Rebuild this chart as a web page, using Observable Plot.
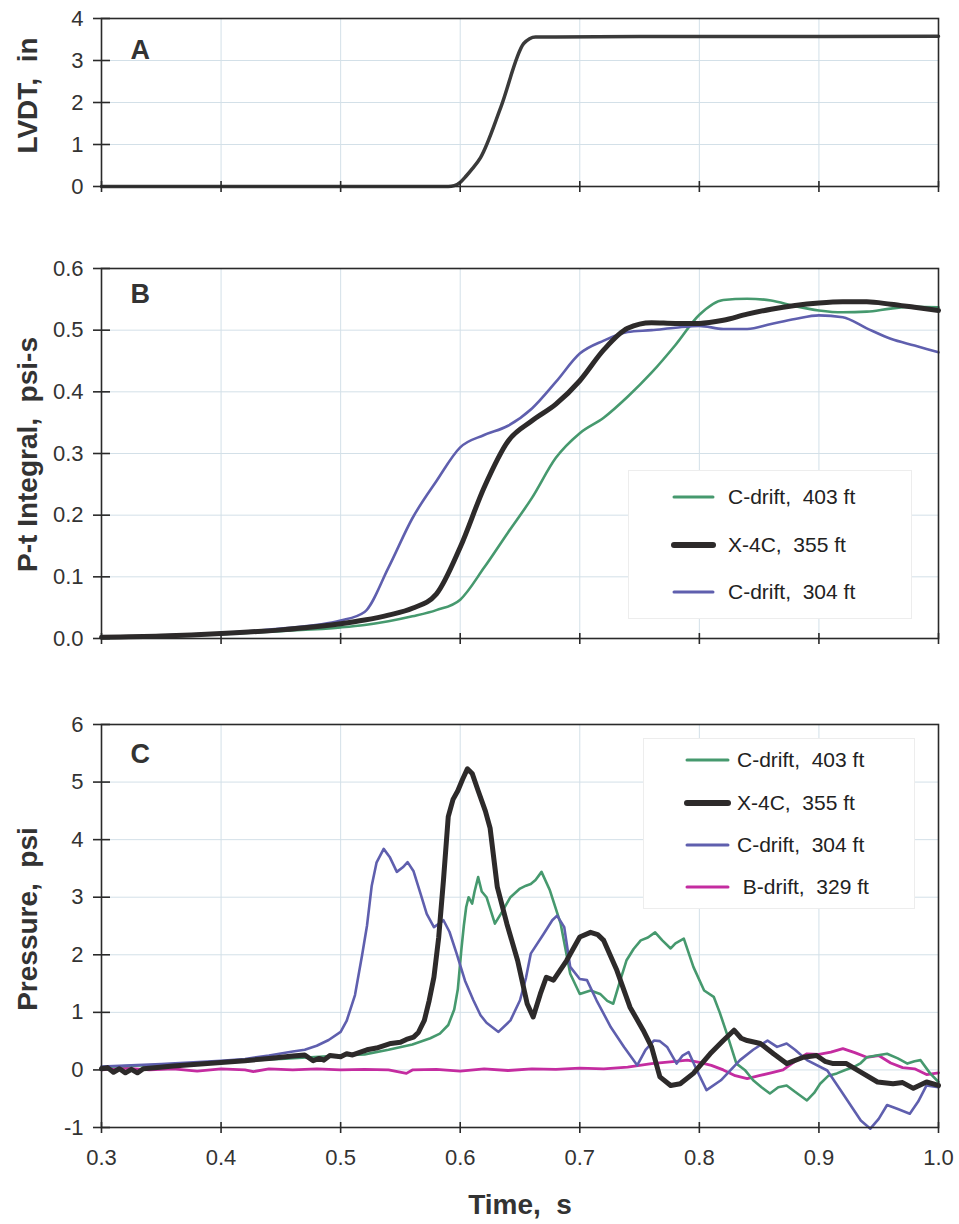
<!DOCTYPE html>
<html><head><meta charset="utf-8">
<script src="https://cdn.jsdelivr.net/npm/d3@7"></script>
<script src="https://cdn.jsdelivr.net/npm/@observablehq/plot@0.6"></script>
<style>
body{margin:0;background:#fff;}
#wrap{position:relative;width:959px;height:1224px;font-family:"Liberation Sans",Arial,sans-serif;}
#wrap svg{position:absolute;left:0;}
.legend{position:absolute;background:#fff;border:1px solid #ededed;}
.row{position:absolute;white-space:pre;font-size:21px;color:#222;height:24px;line-height:24px;}
</style></head><body><div id="wrap"></div>
<script>
// ---------- data ----------
const xTicks = [0.3, 0.4, 0.5, 0.6, 0.7, 0.8, 0.9, 1.0];
const yTicksA = [0, 1, 2, 3, 4];
const yTicksB = [0, 0.1, 0.2, 0.3, 0.4, 0.5, 0.6];
const yTicksC = [-1, 0, 1, 2, 3, 4, 5, 6];

const seriesNames = ["C-drift,  403 ft", "X-4C,  355 ft", "C-drift,  304 ft", " B-drift,  329 ft"];
const seriesColors = ["#46996e", "#2d2a2a", "#5f5fae", "#c42ca0"];

// Panel A: LVDT displacement (in)
const lvdt = [[0.30,0],[0.40,0],[0.50,0],[0.58,0],[0.59,0],[0.595,0.02],[0.600,0.1],[0.605,0.25],[0.610,0.42],
  [0.617,0.69],[0.634,1.89],[0.653,3.40],[0.658,3.52],[0.663,3.56],[0.68,3.56],[0.75,3.57],[0.85,3.57],[1.00,3.58]];

// Panel B: P-t integral (psi-s)
const ptTime  = [0.30,0.35,0.40,0.45,0.50,0.52,0.54,0.56,0.58,0.60,0.62,0.64,0.66,0.68,0.70,0.72,0.74,0.76,0.78,0.80,0.82,0.84,0.86,0.88,0.90,0.92,0.94,0.96,0.98,1.00];
const ptC403  = [0.001,0.003,0.007,0.012,0.018,0.022,0.028,0.036,0.046,0.063,0.115,0.172,0.228,0.293,0.333,0.358,0.392,0.431,0.476,0.525,0.549,0.551,0.548,0.539,0.532,0.529,0.530,0.535,0.538,0.537];
const ptX4C   = [0.002,0.004,0.008,0.014,0.024,0.030,0.038,0.049,0.072,0.148,0.245,0.320,0.353,0.380,0.418,0.468,0.503,0.512,0.511,0.511,0.516,0.526,0.534,0.540,0.544,0.546,0.546,0.542,0.537,0.532];
const ptC304  = [0.002,0.005,0.009,0.016,0.029,0.043,0.115,0.195,0.255,0.310,0.330,0.345,0.373,0.416,0.462,0.483,0.497,0.500,0.504,0.507,0.502,0.502,0.510,0.518,0.524,0.521,0.503,0.486,0.475,0.464];

// Panel C: pressure (psi), [time, value]
const pC403 = [[0.30,0.05],[0.35,0.09],[0.40,0.14],[0.45,0.19],[0.50,0.25],[0.52,0.27],[0.54,0.35],[0.56,0.44],[0.575,0.55],
  [0.583,0.63],[0.590,0.78],[0.595,1.05],[0.598,1.4],[0.601,2.1],[0.603,2.5],[0.605,2.83],[0.607,3.0],[0.610,2.89],[0.612,3.1],
  [0.615,3.35],[0.618,3.1],[0.622,3.0],[0.629,2.54],[0.634,2.71],[0.642,3.0],[0.650,3.15],[0.655,3.2],[0.659,3.23],[0.663,3.3],
  [0.668,3.44],[0.675,3.12],[0.684,2.54],[0.692,1.67],[0.700,1.32],[0.709,1.38],[0.717,1.32],[0.723,1.20],[0.728,1.15],[0.733,1.5],
  [0.739,1.90],[0.745,2.10],[0.751,2.25],[0.757,2.30],[0.763,2.39],[0.769,2.25],[0.776,2.11],[0.780,2.20],[0.787,2.28],[0.795,1.79],
  [0.804,1.38],[0.812,1.27],[0.817,1.0],[0.823,0.63],[0.831,0.11],[0.838,0.0],[0.845,-0.18],[0.852,-0.30],[0.859,-0.41],[0.866,-0.30],
  [0.873,-0.27],[0.880,-0.38],[0.890,-0.53],[0.896,-0.40],[0.901,-0.24],[0.908,-0.10],[0.915,-0.06],[0.922,0.0],[0.929,0.05],[0.935,0.12],
  [0.940,0.22],[0.948,0.25],[0.957,0.28],[0.966,0.20],[0.974,0.11],[0.980,0.15],[0.985,0.17],[0.993,-0.06],[1.0,-0.21]];
const pX4C = [[0.300,0.02],[0.305,0.04],[0.310,-0.04],[0.315,0.02],[0.320,-0.05],[0.325,0.01],[0.330,-0.05],[0.335,0.02],[0.340,0.03],
  [0.360,0.07],[0.380,0.10],[0.400,0.13],[0.420,0.16],[0.440,0.20],[0.460,0.24],[0.470,0.26],[0.477,0.16],[0.482,0.20],[0.486,0.17],
  [0.491,0.25],[0.500,0.23],[0.505,0.28],[0.510,0.26],[0.522,0.35],[0.530,0.38],[0.542,0.46],[0.550,0.48],[0.555,0.53],[0.561,0.57],
  [0.565,0.65],[0.570,0.86],[0.574,1.20],[0.578,1.61],[0.582,2.30],[0.586,3.30],[0.590,4.40],[0.594,4.70],[0.598,4.85],[0.602,5.05],
  [0.606,5.23],[0.610,5.15],[0.615,4.85],[0.621,4.50],[0.625,4.20],[0.631,3.18],[0.639,2.54],[0.648,1.90],[0.656,1.15],[0.661,0.92],
  [0.667,1.32],[0.672,1.61],[0.678,1.56],[0.689,1.90],[0.700,2.31],[0.709,2.39],[0.715,2.35],[0.720,2.25],[0.731,1.73],[0.742,1.09],
  [0.753,0.69],[0.760,0.40],[0.767,-0.12],[0.776,-0.27],[0.784,-0.24],[0.795,-0.06],[0.809,0.28],[0.820,0.51],[0.829,0.69],[0.835,0.55],
  [0.840,0.51],[0.851,0.46],[0.862,0.28],[0.873,0.11],[0.887,0.22],[0.898,0.25],[0.905,0.15],[0.912,0.11],[0.923,0.11],[0.935,-0.04],
  [0.949,-0.21],[0.962,-0.24],[0.970,-0.22],[0.979,-0.32],[0.990,-0.21],[1.000,-0.27]];
const pC304 = [[0.30,0.06],[0.35,0.10],[0.40,0.16],[0.42,0.19],[0.44,0.25],[0.46,0.32],[0.47,0.35],[0.48,0.42],[0.49,0.52],[0.50,0.66],
  [0.505,0.85],[0.512,1.30],[0.518,2.00],[0.522,2.50],[0.526,3.20],[0.530,3.60],[0.536,3.84],[0.541,3.70],[0.547,3.44],[0.552,3.52],
  [0.556,3.61],[0.561,3.45],[0.567,3.05],[0.572,2.71],[0.578,2.48],[0.583,2.55],[0.586,2.60],[0.591,2.40],[0.597,2.02],[0.604,1.55],
  [0.611,1.21],[0.617,0.95],[0.622,0.82],[0.632,0.66],[0.642,0.86],[0.650,1.21],[0.655,1.6],[0.659,2.02],[0.670,2.37],[0.677,2.6],
  [0.681,2.68],[0.687,2.48],[0.692,1.79],[0.700,1.58],[0.706,1.56],[0.714,1.21],[0.726,0.74],[0.737,0.40],[0.748,0.08],[0.755,0.35],
  [0.762,0.51],[0.767,0.50],[0.773,0.40],[0.781,0.11],[0.786,0.25],[0.791,0.31],[0.798,-0.01],[0.806,-0.35],[0.818,-0.18],[0.834,0.17],
  [0.845,0.35],[0.857,0.51],[0.865,0.40],[0.873,0.46],[0.880,0.35],[0.890,0.17],[0.907,-0.01],[0.918,-0.35],[0.935,-0.88],[0.943,-1.02],
  [0.950,-0.85],[0.957,-0.61],[0.966,-0.68],[0.976,-0.76],[0.983,-0.55],[0.990,-0.27],[1.0,-0.30]];
const pB329 = [[0.30,0.0],[0.32,0.03],[0.34,0.0],[0.36,0.02],[0.38,-0.02],[0.40,0.02],[0.42,0.0],[0.427,-0.03],[0.44,0.02],[0.46,0.0],
  [0.48,0.02],[0.50,0.0],[0.52,0.01],[0.54,0.0],[0.555,-0.06],[0.56,0.0],[0.58,0.01],[0.60,-0.02],[0.62,0.02],[0.64,-0.01],[0.66,0.02],
  [0.68,0.01],[0.70,0.03],[0.72,0.02],[0.74,0.05],[0.76,0.11],[0.78,0.15],[0.79,0.17],[0.80,0.13],[0.81,0.08],[0.82,0.0],[0.83,-0.10],
  [0.84,-0.15],[0.85,-0.10],[0.86,-0.05],[0.87,0.0],[0.88,0.15],[0.89,0.28],[0.90,0.27],[0.91,0.31],[0.92,0.37],[0.93,0.30],[0.94,0.22],
  [0.95,0.25],[0.96,0.12],[0.97,0.04],[0.98,0.02],[0.99,-0.08],[1.0,-0.05]];

// ---------- drawing ----------
const wrap = document.getElementById("wrap");
const FONT = "'Liberation Sans', Arial, sans-serif";
const zip = (t, v) => t.map((d, i) => [d, v[i]]);

function panel(o) {
  const marks = [
    Plot.gridX({ticks: xTicks, stroke: "#d3e0e8", strokeOpacity: 1}),
    Plot.gridY({ticks: o.yTicks, stroke: "#d3e0e8", strokeOpacity: 1}),
    ...o.series.map(s => Plot.line(s.data, {x: d => d[0], y: d => d[1], stroke: s.color, strokeWidth: s.width,
        curve: o.curve, strokeLinejoin: "round", strokeLinecap: "round"})),
    Plot.frame({stroke: "#2a2a2a", strokeWidth: 1.6}),
    Plot.axisX({anchor: "bottom", ticks: xTicks, tickSize: 11, dy: -5, tickFormat: () => "", label: null, stroke: "#2a2a2a", strokeWidth: 1.6}),
    Plot.axisY({anchor: "left", ticks: o.yTicks, tickSize: 17, dx: 9, tickFormat: () => "", label: null, stroke: "#2a2a2a", strokeWidth: 1.6}),
    Plot.axisY({anchor: "left", ticks: o.yTicks, tickSize: 0, tickPadding: 18, fontSize: 22, tickFormat: o.yFmt, label: null, fill: "#333"}),
    Plot.text([o.title], {frameAnchor: "left", textAnchor: "middle", lineAnchor: "middle", dx: -73, dy: o.titleDy, rotate: -90, fontSize: 28, fontWeight: "bold", fill: "#333"}),
    Plot.text([o.letter], {frameAnchor: "top-left", dx: 29, dy: o.letterDy, fontSize: 27, fontWeight: "bold", fill: "#333"})
  ];
  if (o.xLabels) {
    marks.push(Plot.axisX({anchor: "bottom", ticks: xTicks, tickSize: 0, tickPadding: 22, fontSize: 22, tickFormat: d3.format(".1f"), label: null, fill: "#333"}));
    marks.push(Plot.text(["Time,\u00a0 s"], {frameAnchor: "bottom", lineAnchor: "middle", dy: 78, fontSize: 28, fontWeight: "bold", fill: "#333"}));
  }
  const svg = Plot.plot({
    width: 959, height: o.height,
    marginLeft: 101, marginRight: 21, marginTop: o.mt, marginBottom: o.mb,
    x: {domain: [0.3, 1.0], axis: null},
    y: {domain: o.yDomain, axis: null},
    style: {fontFamily: FONT, color: "#333", background: "transparent", overflow: "visible"},
    marks
  });
  svg.style.top = o.top + "px";
  wrap.appendChild(svg);
}

panel({top: 0, height: 220, mt: 18, mb: 34, yDomain: [0, 4], yTicks: yTicksA, yFmt: d => String(d),
  title: "LVDT,\u00a0 in", titleDy: -7, letter: "A", letterDy: 21, curve: "monotone-x",
  series: [{data: lvdt, color: "#3a3a3a", width: 3.5}]});

panel({top: 230, height: 440, mt: 38, mb: 32, yDomain: [0, 0.6], yTicks: yTicksB, yFmt: d3.format(".1f"),
  title: "P-t Integral,\u00a0 psi-s", titleDy: 1, letter: "B", letterDy: 15, curve: "monotone-x",
  series: [
    {data: zip(ptTime, ptC403), color: seriesColors[0], width: 2.6},
    {data: zip(ptTime, ptC304), color: seriesColors[2], width: 2.6},
    {data: zip(ptTime, ptX4C), color: seriesColors[1], width: 5}
  ]});

panel({top: 680, height: 544, mt: 44, mb: 97, yDomain: [-1, 6], yTicks: yTicksC, yFmt: d => String(d),
  title: "Pressure,\u00a0 psi", titleDy: -7, letter: "C", letterDy: 19, curve: "linear", xLabels: true,
  series: [
    {data: pB329, color: seriesColors[3], width: 2.8},
    {data: pC403, color: seriesColors[0], width: 2.6},
    {data: pC304, color: seriesColors[2], width: 2.6},
    {data: pX4C, color: seriesColors[1], width: 5}
  ]});

// ---------- legends ----------
function legend(box, rows, lineX, textX, idx) {
  const div = document.createElement("div");
  div.className = "legend";
  Object.assign(div.style, {left: box[0] + "px", top: box[1] + "px", width: box[2] + "px", height: box[3] + "px"});
  wrap.appendChild(div);
  idx.forEach((k, i) => {
    const cy = rows[i];
    const ln = document.createElementNS("http://www.w3.org/2000/svg", "svg");
    ln.setAttribute("width", 60); ln.setAttribute("height", 14);
    ln.style.position = "absolute"; ln.style.left = (lineX[0] - 4) + "px"; ln.style.top = (cy - 7) + "px";
    const l = document.createElementNS("http://www.w3.org/2000/svg", "line");
    l.setAttribute("x1", 4); l.setAttribute("x2", 4 + lineX[1] - lineX[0]);
    l.setAttribute("y1", 7); l.setAttribute("y2", 7);
    l.setAttribute("stroke", seriesColors[k]);
    l.setAttribute("stroke-width", k === 1 ? 6 : 3);
    l.setAttribute("stroke-linecap", "round");
    ln.appendChild(l);
    wrap.appendChild(ln);
    const t = document.createElement("div");
    t.className = "row";
    t.textContent = seriesNames[k];
    t.style.left = textX + "px"; t.style.top = (cy - 12) + "px";
    wrap.appendChild(t);
  });
}
legend([628, 470, 282, 147], [497, 545, 592], [674, 713], 728, [0, 1, 2]);
legend([643, 738, 270, 169], [760, 803, 845, 887], [687, 728], 737, [0, 1, 2, 3]);
</script></body></html>
